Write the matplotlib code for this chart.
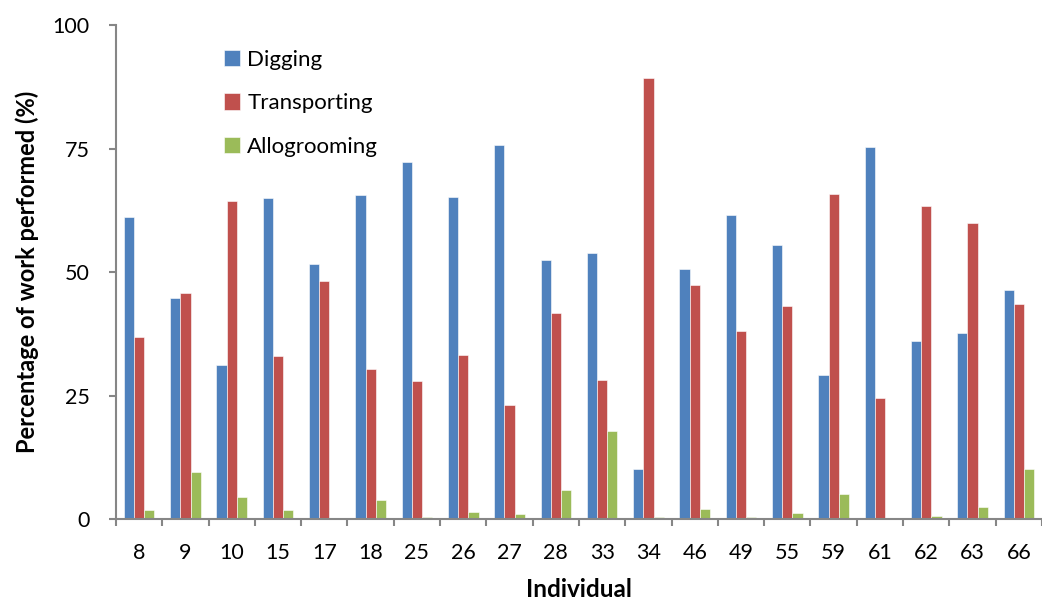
import numpy as np
import matplotlib
matplotlib.use("Agg")
import matplotlib.pyplot as plt

plt.rcParams['font.family'] = ['Lato', 'DejaVu Sans']

individuals = ['8', '9', '10', '15', '17', '18', '25', '26', '27', '28',
               '33', '34', '46', '49', '55', '59', '61', '62', '63', '66']
digging = [61.2, 44.7, 31.3, 64.9, 51.7, 65.6, 72.2, 65.2, 75.7, 52.4,
           53.9, 10.1, 50.6, 61.6, 55.5, 29.1, 75.4, 36.0, 37.6, 46.3]
transporting = [36.9, 45.8, 64.3, 33.0, 48.2, 30.5, 27.9, 33.3, 23.1, 41.7,
                28.2, 89.3, 47.3, 38.0, 43.1, 65.8, 24.5, 63.3, 59.9, 43.5]
allogrooming = [1.9, 9.5, 4.5, 1.9, 0.0, 3.9, 0.5, 1.4, 1.1, 5.9,
                17.9, 0.5, 2.0, 0.4, 1.3, 5.1, 0.0, 0.7, 2.5, 10.2]

series = [('Digging', digging, '#4F81BD'),
          ('Transporting', transporting, '#C0504D'),
          ('Allogrooming', allogrooming, '#9BBB59')]

fig = plt.figure(figsize=(10.42, 6.02), dpi=100)
ax = fig.add_axes([0.1113, 0.1374, 0.8887, 0.8211])

x = np.arange(len(individuals))
w = 0.22
for i, (name, vals, col) in enumerate(series):
    ax.bar(x + (i - 1) * w, vals, width=w, color=col, label=name,
           edgecolor='white', linewidth=0.4)

ax.set_ylim(0, 100)
ax.set_yticks([0, 25, 50, 75, 100])
# last group runs off the right edge
ax.set_xlim(-0.5, 19.5 - 10 / 46.8)
ax.set_xticks(x)
ax.set_xticklabels(individuals)
ax.set_xticks(np.arange(-0.5, 20, 1), minor=True)

grey = '#868686'
for s in ['top', 'right']:
    ax.spines[s].set_visible(False)
for s in ['left', 'bottom']:
    ax.spines[s].set_color(grey)
    ax.spines[s].set_linewidth(1.5)

ax.tick_params(axis='y', length=5, width=1.5, color=grey, labelsize=15.5, pad=14)
ax.tick_params(axis='x', which='major', length=0, labelsize=15.5, pad=17)
ax.tick_params(axis='x', which='minor', length=5, width=1.5, color=grey)

ax.set_ylabel('Percentage of work performed (%)', fontsize=17,
              fontweight='bold', labelpad=10)
ax.set_xlabel('Individual', fontsize=17.5, fontweight='bold', labelpad=11)

ax.legend(loc='upper left', bbox_to_anchor=(0.095, 0.99), frameon=False,
          fontsize=16, labelspacing=1.05, handlelength=0.7, handleheight=0.75,
          handletextpad=0.35)

fig.savefig('out.png', dpi=100)
